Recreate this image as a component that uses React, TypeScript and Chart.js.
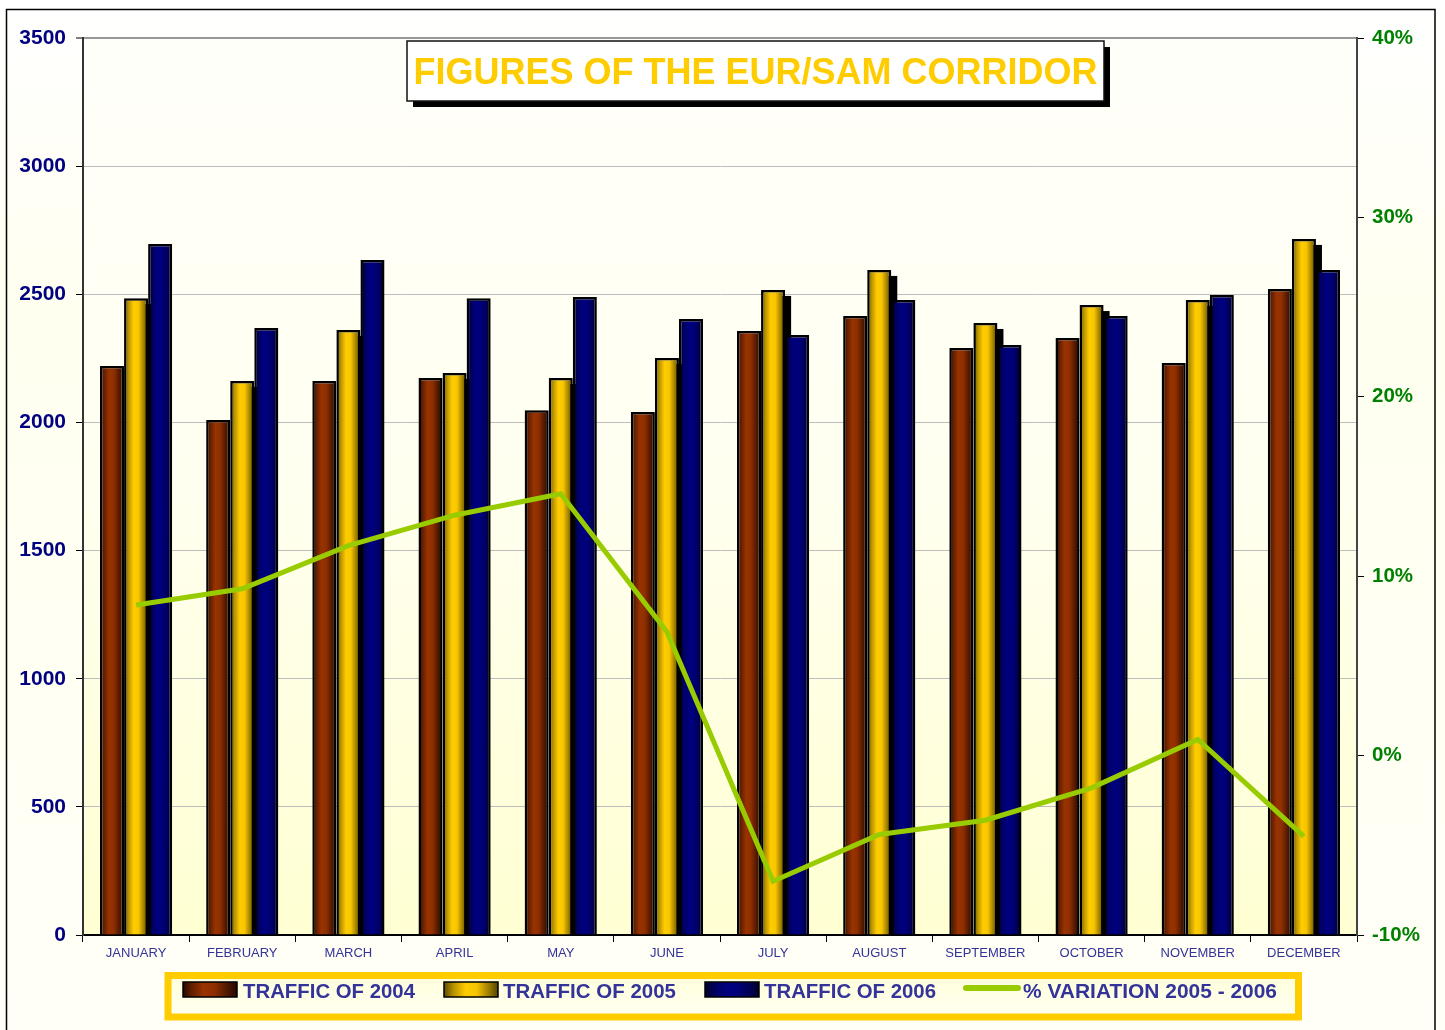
import React, { useEffect, useRef } from 'react';
import { Chart, registerables } from 'chart.js';

Chart.register(...registerables);

// ---------- data ----------
const months = ['JANUARY', 'FEBRUARY', 'MARCH', 'APRIL', 'MAY', 'JUNE', 'JULY', 'AUGUST', 'SEPTEMBER', 'OCTOBER', 'NOVEMBER', 'DECEMBER'];
const traffic2004 = [2220, 2009, 2162, 2173, 2048, 2041, 2357, 2415, 2290, 2329, 2232, 2521];
const traffic2005 = [2485, 2162, 2361, 2193, 2173, 2251, 2517, 2595, 2388, 2458, 2478, 2716];
const traffic2006 = [2696, 2368, 2634, 2485, 2489, 2404, 2341, 2478, 2302, 2415, 2497, 2595];
const variation0506 = [8.4, 9.3, 11.7, 13.4, 14.6, 6.9, -7.0, -4.4, -3.6, -1.8, 0.9, -4.5];
const seriesLabels = ['TRAFFIC OF 2004', 'TRAFFIC OF 2005', 'TRAFFIC OF 2006', '% VARIATION 2005 - 2006'];
const chartTitle = 'FIGURES OF THE EUR/SAM CORRIDOR';
const leftAxis = { min: 0, max: 3500, step: 500 };
const rightAxis = { min: -10, max: 40, step: 10 };

// ---------- styles ----------
const FONT = "'Liberation Sans', Arial, sans-serif";
const barStops: [number, string][][] = [
  [[0, '#260900'], [0.15, '#5e1e00'], [0.38, '#993300'], [0.58, '#8e2f00'], [0.82, '#501800'], [1, '#220700']],
  [[0, '#5e4a00'], [0.18, '#b89200'], [0.4, '#ffcc00'], [0.6, '#f8c600'], [0.84, '#9a7a00'], [1, '#544200']],
  [[0, '#00002a'], [0.22, '#000066'], [0.42, '#000080'], [0.62, '#000078'], [0.88, '#00004a'], [1, '#000026']],
];
const barBase = ['#993300', '#ffcc00', '#000080'];
const lineColor = '#99CC00';

function makeGrad(ctx: CanvasRenderingContext2D, left: number, width: number, stops: [number, string][]) {
  const g = ctx.createLinearGradient(left, 0, left + width, 0);
  stops.forEach(([o, c]) => g.addColorStop(o, c));
  return g;
}

const decorPlugin = {
  id: 'decor',
  beforeDraw(chart: any) {
    const { ctx, width, height, chartArea: ca } = chart;
    ctx.save();
    let g = ctx.createLinearGradient(0, 0, 0, height);
    g.addColorStop(0, '#ffffff');
    g.addColorStop(0.3, '#fffff0');
    g.addColorStop(1, '#fffff7');
    ctx.fillStyle = g;
    ctx.fillRect(0, 0, width, height);
    g = ctx.createLinearGradient(0, ca.top, 0, ca.bottom);
    g.addColorStop(0, '#fffffa');
    g.addColorStop(0.5, '#fffff0');
    g.addColorStop(1, '#ffffd2');
    ctx.fillStyle = g;
    ctx.fillRect(ca.left, ca.top, ca.right - ca.left, ca.bottom - ca.top);
    ctx.restore();
  },
  beforeDatasetsDraw(chart: any) {
    const { ctx, chartArea: ca } = chart;
    chart.data.datasets.forEach((ds: any, i: number) => {
      const meta = chart.getDatasetMeta(i);
      if (meta.type !== 'bar') return;
      meta.data.forEach((el: any) => {
        const { x, width } = el.getProps(['x', 'width'], true);
        el.options = Object.assign({}, el.options, {
          backgroundColor: makeGrad(ctx, x - width / 2, width, barStops[i]),
        });
      });
    });
    // shadow of the 2005 bars
    const meta = chart.getDatasetMeta(1);
    ctx.save();
    ctx.beginPath();
    ctx.rect(ca.left, ca.top, ca.right - ca.left, ca.bottom - ca.top);
    ctx.clip();
    ctx.fillStyle = '#000';
    meta.data.forEach((el: any) => {
      const { x, y, base, width } = el.getProps(['x', 'y', 'base', 'width'], true);
      ctx.fillRect(x - width / 2 + 6, y + 6, width, base - y);
    });
    ctx.restore();
  },
  afterDraw(chart: any) {
    const { ctx } = chart;
    ctx.save();
    // title box
    const tx = 407, ty = 41, tw = 697, th = 60;
    ctx.fillStyle = '#000';
    ctx.fillRect(tx + 6, ty + 6, tw, th);
    ctx.fillStyle = '#ffffff';
    ctx.fillRect(tx, ty, tw, th);
    ctx.lineWidth = 1.5;
    ctx.strokeStyle = '#111';
    ctx.strokeRect(tx, ty, tw, th);
    ctx.font = `bold 36px ${FONT}`;
    ctx.fillStyle = '#ffcc00';
    ctx.textAlign = 'center';
    ctx.textBaseline = 'alphabetic';
    const mw = ctx.measureText(chartTitle).width;
    const sx = 684 / mw;
    ctx.save();
    ctx.translate(tx + tw / 2, 84);
    ctx.scale(sx, 1);
    ctx.fillText(chartTitle, 0, 0);
    ctx.restore();

    // legend
    const lg = ctx.createLinearGradient(0, 976, 0, 1017);
    lg.addColorStop(0, '#ffffdc');
    lg.addColorStop(1, '#fffff2');
    ctx.fillStyle = lg;
    ctx.fillRect(168, 975.5, 1130.5, 41.5);
    ctx.lineWidth = 7;
    ctx.strokeStyle = '#ffcc00';
    ctx.strokeRect(168, 975.5, 1130.5, 41.5);

    const swX = [183, 444, 705];
    const txtX = [243, 503, 764, 1023];
    swX.forEach((sxp, i) => {
      ctx.fillStyle = makeGrad(ctx, sxp, 54, barStops[i]);
      ctx.fillRect(sxp, 982, 54, 15);
      ctx.lineWidth = 1.5;
      ctx.strokeStyle = '#000';
      ctx.strokeRect(sxp, 982, 54, 15);
    });
    ctx.beginPath();
    ctx.moveTo(966, 988);
    ctx.lineTo(1018, 988);
    ctx.lineWidth = 6;
    ctx.lineCap = 'round';
    ctx.strokeStyle = lineColor;
    ctx.stroke();

    ctx.font = `bold 20.5px ${FONT}`;
    ctx.fillStyle = '#333399';
    ctx.textAlign = 'left';
    ctx.textBaseline = 'alphabetic';
    seriesLabels.forEach((t, i) => {
      const w = ctx.measureText(t).width;
      const target = [172, 173, 172, 254][i];
      ctx.save();
      ctx.translate(txtX[i], 997.5);
      ctx.scale(target / w, 1);
      ctx.fillText(t, 0, 0);
      ctx.restore();
    });

    // outer border
    ctx.lineWidth = 1.5;
    ctx.strokeStyle = '#000';
    ctx.strokeRect(6.5, 9.5, 1428.5, 1040);
    ctx.restore();
  },
};

export default function App() {
  const ref = useRef<HTMLCanvasElement | null>(null);

  useEffect(() => {
    if (!ref.current) return;
    const barDs = (i: number, data: number[]) => ({
      type: 'bar' as const,
      label: seriesLabels[i],
      data,
      yAxisID: 'y',
      backgroundColor: barBase[i],
      borderColor: '#000',
      borderWidth: 2.5,
      categoryPercentage: 0.68,
      barPercentage: 1,
    });
    const chart = new Chart(ref.current, {
      type: 'bar',
      data: {
        labels: months,
        datasets: [
          barDs(0, traffic2004),
          barDs(1, traffic2005),
          barDs(2, traffic2006),
          {
            type: 'line' as const,
            label: seriesLabels[3],
            data: variation0506,
            yAxisID: 'y1',
            borderColor: lineColor,
            backgroundColor: lineColor,
            borderWidth: 5,
            pointRadius: 0,
            tension: 0,
            fill: false,
            order: -1,
          } as any,
        ],
      },
      options: {
        responsive: false,
        animation: false,
        layout: { padding: { top: 38, left: 0, right: 0, bottom: 0 } },
        plugins: {
          legend: { display: false },
          tooltip: { enabled: false },
          title: { display: false },
        },
        scales: {
          x: {
            grid: { offset: true, drawOnChartArea: false, tickLength: 7, tickColor: '#000', tickWidth: 1 },
            border: { color: '#000', width: 2 },
            ticks: { color: '#333399', font: { family: FONT, size: 13 }, padding: 4, maxRotation: 0, autoSkip: false },
            afterFit: (s: any) => { s.height = 95; },
          },
          y: {
            position: 'left',
            min: leftAxis.min,
            max: leftAxis.max,
            ticks: {
              stepSize: leftAxis.step,
              callback: (v: any) => String(v),
              color: '#000080',
              font: { family: FONT, size: 21, weight: 'bold' },
              padding: 10,
            },
            grid: {
              color: (c: any) => (c.tick && c.tick.value === leftAxis.max ? '#999999' : '#bdbdbd'),
              lineWidth: (c: any) => (c.tick && c.tick.value === leftAxis.max ? 2 : 1),
              tickLength: 7,
              tickColor: '#000',
              tickWidth: 1,
            },
            border: { color: '#333', width: 2 },
            afterFit: (s: any) => { s.width = 83; },
          },
          y1: {
            position: 'right',
            min: rightAxis.min,
            max: rightAxis.max,
            ticks: {
              stepSize: rightAxis.step,
              callback: (v: any) => `${v}%`,
              color: '#008000',
              font: { family: FONT, size: 20.5, weight: 'bold' },
              padding: 8,
            },
            grid: { drawOnChartArea: false, tickLength: 7, tickColor: '#000', tickWidth: 1 },
            border: { color: '#444', width: 2 },
            afterFit: (s: any) => { s.width = 88; },
          },
        },
      } as any,
      plugins: [decorPlugin as any],
    });
    return () => chart.destroy();
  }, []);

  return (
    <div style={{ position: 'absolute', left: 0, top: 0, width: 1445, height: 1030, overflow: 'hidden' }}>
      <canvas ref={ref} width={1445} height={1030} style={{ display: 'block' }} />
    </div>
  );
}
